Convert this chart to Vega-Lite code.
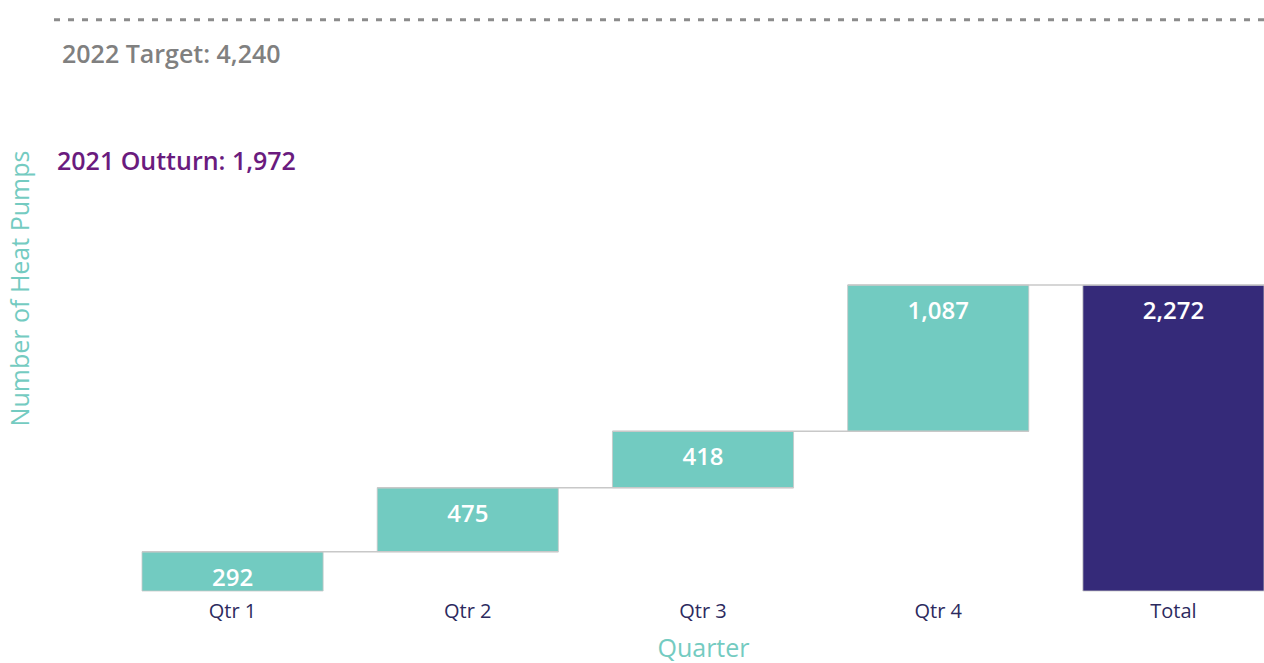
{
  "$schema": "https://vega.github.io/schema/vega-lite/v6.json",
  "width": 1216,
  "height": 581,
  "autosize": "none",
  "padding": {"left": 48, "top": 10, "right": 0, "bottom": 72},
  "config": {"view": {"stroke": null}, "font": "Segoe UI, Open Sans"},
  "datasets": {
    "bars": [
      {"Quarter": "Qtr 1", "start": 0, "end": 292, "amount": 292, "kind": "step"},
      {"Quarter": "Qtr 2", "start": 292, "end": 767, "amount": 475, "kind": "step"},
      {"Quarter": "Qtr 3", "start": 767, "end": 1185, "amount": 418, "kind": "step"},
      {"Quarter": "Qtr 4", "start": 1185, "end": 2272, "amount": 1087, "kind": "step"},
      {"Quarter": "Total", "start": 0, "end": 2272, "amount": 2272, "kind": "total"}
    ],
    "links": [
      {"Quarter": "Qtr 1", "Next": "Qtr 2", "level": 292},
      {"Quarter": "Qtr 2", "Next": "Qtr 3", "level": 767},
      {"Quarter": "Qtr 3", "Next": "Qtr 4", "level": 1185},
      {"Quarter": "Qtr 4", "Next": "Total", "level": 2272}
    ],
    "target": [{"value": 4240, "outturn": 1972}]
  },
  "layer": [
    {
      "data": {"name": "bars"},
      "mark": {"type": "bar", "stroke": "#C8C8C8", "strokeWidth": 0.8},
      "encoding": {
        "x": {
          "field": "Quarter",
          "type": "nominal",
          "sort": null,
          "scale": {"range": [94, 1216], "paddingInner": 0.23, "paddingOuter": 0},
          "axis": {
            "title": "Quarter",
            "labelAngle": 0,
            "labelAlign": "center",
            "labelBaseline": "top",
            "labelFontSize": 20,
            "labelColor": "#2C2A5E",
            "labelPadding": 10,
            "ticks": false,
            "domain": false,
            "titleFontSize": 25,
            "titleFontWeight": "normal",
            "titleColor": "#74CBC1",
            "titleY": 57,
            "titleBaseline": "middle"
          }
        },
        "y": {
          "field": "start",
          "type": "quantitative",
          "scale": {"domain": [0, 4313], "nice": false, "zero": true},
          "axis": {
            "title": "Number of Heat Pumps",
            "labels": false,
            "ticks": false,
            "domain": false,
            "grid": false,
            "titleFontSize": 25,
            "titleFontWeight": "normal",
            "titleColor": "#74CBC1",
            "titleX": -28,
            "titleY": 278,
            "titleBaseline": "middle"
          }
        },
        "y2": {"field": "end"},
        "color": {
          "field": "kind",
          "type": "nominal",
          "scale": {"domain": ["step", "total"], "range": ["#72CBC1", "#352A79"]},
          "legend": null
        }
      }
    },
    {
      "data": {"name": "links"},
      "mark": {"type": "rule", "color": "#C8C8C8", "strokeWidth": 1.5},
      "encoding": {
        "x": {"field": "Quarter", "type": "nominal", "bandPosition": 0},
        "x2": {"field": "Next", "bandPosition": 1},
        "y": {"field": "level", "type": "quantitative"}
      }
    },
    {
      "data": {"name": "bars"},
      "mark": {"type": "text", "color": "white", "fontSize": 24, "fontWeight": 600, "baseline": "middle", "dy": 27},
      "encoding": {
        "x": {"field": "Quarter", "type": "nominal"},
        "y": {"field": "end", "type": "quantitative"},
        "text": {"field": "amount", "type": "quantitative", "format": ","}
      }
    },
    {
      "data": {"name": "target"},
      "mark": {"type": "rule", "color": "#8C8C8C", "strokeWidth": 3, "strokeDash": [6, 8]},
      "encoding": {"y": {"field": "value", "type": "quantitative"}}
    },
    {
      "data": {"name": "target"},
      "mark": {"type": "text", "color": "#808080", "fontSize": 25, "fontWeight": 600, "align": "left", "baseline": "middle", "dx": -80, "dy": 35},
      "encoding": {
        "x": {"datum": "Qtr 1", "bandPosition": 0},
        "y": {"field": "value", "type": "quantitative"},
        "text": {"value": "2022 Target: 4,240"}
      }
    },
    {
      "data": {"name": "target"},
      "mark": {"type": "text", "color": "#6A1B7E", "fontSize": 25, "fontWeight": 600, "align": "left", "baseline": "middle", "dx": -85, "dy": 142},
      "encoding": {
        "x": {"datum": "Qtr 1", "bandPosition": 0},
        "y": {"field": "value", "type": "quantitative"},
        "text": {"value": "2021 Outturn: 1,972"}
      }
    }
  ]
}
